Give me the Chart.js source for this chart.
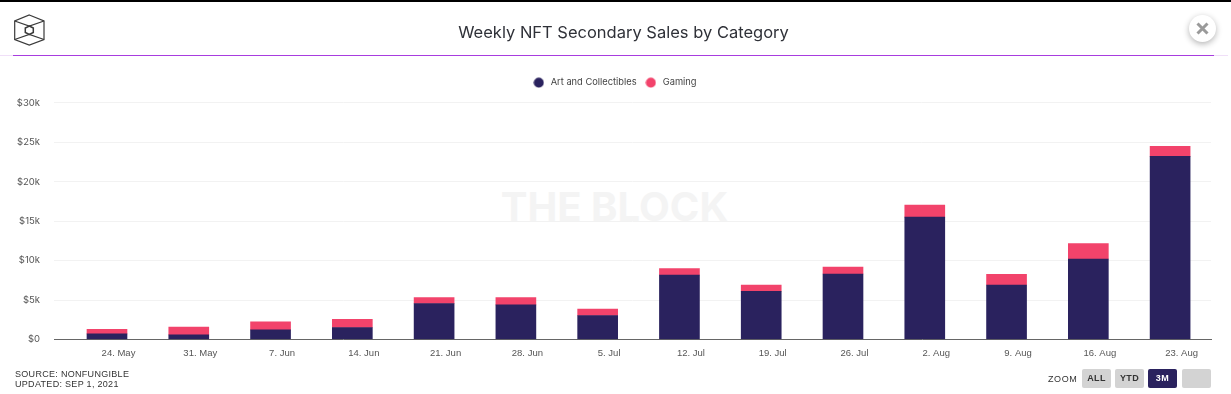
<!DOCTYPE html>
<html><head><meta charset="utf-8">
<script src="https://cdn.jsdelivr.net/npm/chart.js@4"></script>
<style>
html,body{margin:0;padding:0;background:#fff;width:1231px;height:394px;overflow:hidden}
#wrap{position:relative;width:1231px;height:394px;font-family:"Inter",sans-serif}
#wrap>*{position:absolute}
canvas{left:0;top:0}
#top{left:0;top:0;width:1231px;height:1.5px;background:#000}
#rule{left:0;top:55px;width:1228px;height:1px;background:#f0dff8}
#rule2{left:13px;top:55px;width:1201px;height:1px;background:#a83ddf}
#title{left:0;width:1247px;top:20px;text-align:center;font-size:16.5px;line-height:24px;color:#2f3138}
#mark{left:0;width:1229px;top:182px;text-align:center;font:bold 40px/50px "Inter",sans-serif;color:#f4f4f4}
#src{left:15px;top:369px;font:9px/10px "Liberation Sans",sans-serif;letter-spacing:.3px;color:#333}
#zl{left:1048px;top:373px;font:9px/12px "Liberation Sans",sans-serif;letter-spacing:.6px;color:#333}
.b{top:369px;width:29px;height:19px;border-radius:2px;background:#d3d3d3;text-align:center;font:bold 9px/19px "Liberation Sans",sans-serif;color:#333;letter-spacing:.4px}
#close{left:1189px;top:15px;width:27px;height:27px;border-radius:50%;background:#fff;box-shadow:0 2px 6px rgba(0,0,0,.3)}
</style></head><body>
<div id="wrap">
<div id="mark">THE BLOCK</div>
<canvas id="c" width="1231" height="394" style="width:1231px;height:394px"></canvas>
<div id="top"></div><div id="rule"></div><div id="rule2"></div>
<div id="title">Weekly NFT Secondary Sales by Category</div>
<svg style="left:12px;top:13px" width="36" height="34" viewBox="12 13 36 34" fill="none" stroke="#3a3a3a" stroke-width="1.2">
<path d="M29.3 15L44 21V39.5L29.3 45L14.7 39.5V21Z"/>
<path d="M29.3 26L33.3 28V32.5L29.3 34.5L25.3 32.5V28Z" stroke-width="1.5"/>
<path d="M14.7 21L29.3 26L44 21M14.7 39.5L29.3 34.5L44 39.5"/>
</svg>
<div id="close"><svg width="27" height="27" viewBox="0 0 27 27" stroke="#9a9a9a" stroke-width="3"><path d="M8.5 8.5L18.5 18.5M18.5 8.5L8.5 18.5"/></svg></div>
<div id="src">SOURCE: NONFUNGIBLE<br>UPDATED: SEP 1, 2021</div>
<div id="zl">ZOOM</div>
<div class="b" style="left:1082px">ALL</div>
<div class="b" style="left:1115px">YTD</div>
<div class="b" style="left:1148px;background:#2a225e;color:#fff">3M</div>
<div class="b" style="left:1182px"></div>
</div>
<script>
const categories = ["24. May","31. May","7. Jun","14. Jun","21. Jun","28. Jun","5. Jul","12. Jul","19. Jul","26. Jul","2. Aug","9. Aug","16. Aug","23. Aug"];
const artAndCollectibles = [710,580,1220,1520,4560,4380,3040,8180,6110,8300,15520,6910,10200,23200];
const gaming = [590,980,1010,1050,760,940,800,810,800,890,1520,1360,1950,1270];
const yTicks = [0,5000,10000,15000,20000,25000,30000];
const toPoints = arr => arr.map((v,i)=>({x:i,y:v}));

function dot(color){
  const c=document.createElement('canvas');c.width=11;c.height=11;
  const g=c.getContext('2d');g.fillStyle=color;g.beginPath();g.arc(5.5,5.5,5,0,Math.PI*2);g.fill();
  return c;
}
const legendGap = {id:'legendGap',beforeLayout(chart){
  const l=chart.legend;
  if(l && !l._gap){l._gap=true;const f=l.fit;l.fit=function(){f.call(this);this.height+=5.5;};}
}};
Chart.defaults.animation = false;
new Chart(document.getElementById('c'),{
  type:'bar',
  plugins:[legendGap],
  data:{datasets:[
    {label:'Art and Collectibles',data:toPoints(artAndCollectibles),backgroundColor:'#2a225e',borderWidth:0,barThickness:40,stack:'s'},
    {label:'Gaming',data:toPoints(gaming),backgroundColor:'#f2436b',borderWidth:0,barThickness:40,stack:'s'}
  ]},
  options:{
    responsive:false,
    layout:{padding:{left:17,right:20,top:71,bottom:0}},
    plugins:{
      tooltip:{enabled:false},
      legend:{position:'top',align:'center',
        labels:{usePointStyle:true,pointStyle:'circle',pointStyleWidth:14.5,boxHeight:7,boxWidth:7,padding:7,
          color:'#444',font:{family:'Inter',size:9.3},
          generateLabels(chart){
            return Chart.defaults.plugins.legend.labels.generateLabels(chart).map(l=>{
              l.pointStyle=dot(l.fillStyle);l.lineWidth=0;return l;});
          }}}
    },
    scales:{
      x:{type:'linear',stacked:true,offset:false,min:-0.648,max:13.5,
        afterBuildTicks(s){s.ticks=categories.map((_,i)=>({value:i}));},
        afterFit(s){s.height=54.5;},
        grid:{display:false,drawTicks:false},
        border:{color:'#666',width:1},
        ticks:{autoSkip:false,maxRotation:0,labelOffset:11.5,padding:8,color:'#555',
          font:{family:'Liberation Sans',size:9.5},
          callback:v=>categories[v]}},
      y:{stacked:true,min:0,max:30000,
        afterBuildTicks(s){s.ticks=yTicks.map(v=>({value:v}));},
        afterFit(s){s.width=37;},
        grid:{color:'#f2f2f2',lineWidth:1,drawTicks:false},
        border:{display:false},
        ticks:{padding:14,color:'#555',font:{family:'Inter',size:9.5},
          callback:v=>'$'+(v/1000)+(v?'k':'')}}
    }
  }
});
</script>
</body></html>
